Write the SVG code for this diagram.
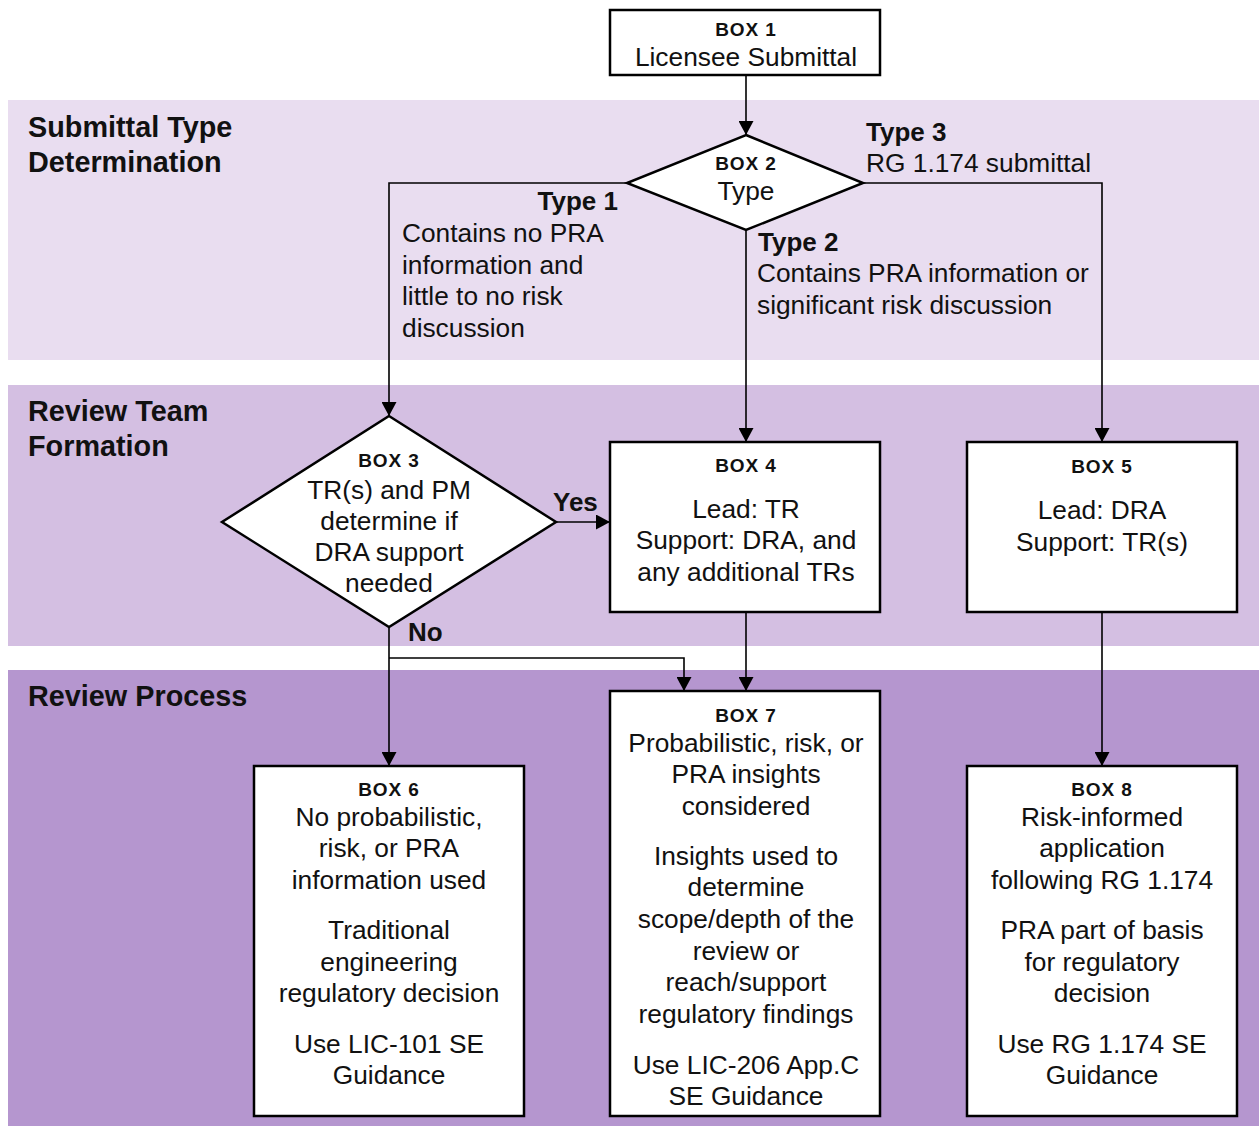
<svg xmlns="http://www.w3.org/2000/svg" width="1259" height="1126" viewBox="0 0 1259 1126">
  <defs>
    <marker id="arrow" viewBox="0 0 14 15" refX="14" refY="7.5" markerWidth="14" markerHeight="15" markerUnits="userSpaceOnUse" orient="auto">
      <path d="M0,0 L14,7.5 L0,15 Z" fill="#000"/>
    </marker>
    <style>
      text { font-family: "Liberation Sans", Arial, sans-serif; fill: #111; }
      .box { fill: #fff; stroke: #000; stroke-width: 2.5; }
      .hd { font-size: 19px; font-weight: bold; text-anchor: middle; letter-spacing: 0.9px; }
      .tx { font-size: 26.3px; text-anchor: middle; }
      .lb { font-size: 26.3px; }
      .lbb { font-size: 26px; font-weight: bold; }
      .band { font-size: 28.8px; font-weight: bold; }
      .conn path { fill: none; stroke: #000; stroke-width: 1.6; }
    </style>
  </defs>

  <rect width="1259" height="1126" fill="#fff"/>

  <!-- swimlane bands -->
  <g id="bands">
    <rect x="8" y="100" width="1251" height="260" fill="#E9DDF0"/>
    <rect x="8" y="385" width="1251" height="261" fill="#D4BFE2"/>
    <rect x="8" y="670" width="1251" height="456" fill="#B596CF"/>
    <text class="band" x="28" y="137">Submittal Type</text>
    <text class="band" x="28" y="172">Determination</text>
    <text class="band" x="28" y="421">Review Team</text>
    <text class="band" x="28" y="456">Formation</text>
    <text class="band" x="28" y="706">Review Process</text>
  </g>

  <!-- connectors -->
  <g id="connectors" class="conn">
    <path d="M746,75 V135" marker-end="url(#arrow)"/>
    <path d="M627,183 H389 V416" marker-end="url(#arrow)"/>
    <path d="M746,230 V442" marker-end="url(#arrow)"/>
    <path d="M863,183 H1102 V442" marker-end="url(#arrow)"/>
    <path d="M556,522 H610" marker-end="url(#arrow)"/>
    <path d="M389,627 V766" marker-end="url(#arrow)"/>
    <path d="M389,658 H684 V691" marker-end="url(#arrow)"/>
    <path d="M746,612 V691" marker-end="url(#arrow)"/>
    <path d="M1102,612 V766" marker-end="url(#arrow)"/>
  </g>

  <!-- connector labels -->
  <g id="labels">
    <text class="lbb" x="866" y="141">Type 3</text>
    <text class="lb" x="866" y="172">RG 1.174 submittal</text>
    <text class="lbb" x="618" y="210" text-anchor="end">Type 1</text>
    <text class="lb" x="402" y="242">Contains no PRA</text>
    <text class="lb" x="402" y="274">information and</text>
    <text class="lb" x="402" y="305">little to no risk</text>
    <text class="lb" x="402" y="337">discussion</text>
    <text class="lbb" x="758" y="251">Type 2</text>
    <text class="lb" x="757" y="282">Contains PRA information or</text>
    <text class="lb" x="757" y="314">significant risk discussion</text>
    <text class="lbb" x="553" y="511">Yes</text>
    <text class="lbb" x="408" y="641">No</text>
  </g>

  <g id="box1">
    <rect class="box" x="610" y="10" width="270" height="65"/>
    <text class="hd" x="746" y="36">BOX 1</text>
    <text class="tx" x="746" y="66">Licensee Submittal</text>
  </g>

  <g id="box2">
    <polygon class="box" points="746,135 863,183 746,230 627,183"/>
    <text class="hd" x="746" y="170">BOX 2</text>
    <text class="tx" x="746" y="200">Type</text>
  </g>

  <g id="box3">
    <polygon class="box" points="389,416 556,522 389,627 222,522"/>
    <text class="hd" x="389" y="467">BOX 3</text>
    <text class="tx" x="389" y="499">TR(s) and PM</text>
    <text class="tx" x="389" y="530">determine if</text>
    <text class="tx" x="389" y="561">DRA support</text>
    <text class="tx" x="389" y="592">needed</text>
  </g>

  <g id="box4">
    <rect class="box" x="610" y="442" width="270" height="170"/>
    <text class="hd" x="746" y="472">BOX 4</text>
    <text class="tx" x="746" y="518">Lead: TR</text>
    <text class="tx" x="746" y="549">Support: DRA, and</text>
    <text class="tx" x="746" y="581">any additional TRs</text>
  </g>

  <g id="box5">
    <rect class="box" x="967" y="442" width="270" height="170"/>
    <text class="hd" x="1102" y="473">BOX 5</text>
    <text class="tx" x="1102" y="519">Lead: DRA</text>
    <text class="tx" x="1102" y="551">Support: TR(s)</text>
  </g>

  <g id="box6">
    <rect class="box" x="254" y="766" width="270" height="350"/>
    <text class="hd" x="389" y="796">BOX 6</text>
    <text class="tx" x="389" y="826">No probabilistic,</text>
    <text class="tx" x="389" y="857">risk, or PRA</text>
    <text class="tx" x="389" y="889">information used</text>
    <text class="tx" x="389" y="939">Traditional</text>
    <text class="tx" x="389" y="971">engineering</text>
    <text class="tx" x="389" y="1002">regulatory decision</text>
    <text class="tx" x="389" y="1053">Use LIC-101 SE</text>
    <text class="tx" x="389" y="1084">Guidance</text>
  </g>

  <g id="box7">
    <rect class="box" x="610" y="691" width="270" height="425"/>
    <text class="hd" x="746" y="722">BOX 7</text>
    <text class="tx" x="746" y="752">Probabilistic, risk, or</text>
    <text class="tx" x="746" y="783">PRA insights</text>
    <text class="tx" x="746" y="815">considered</text>
    <text class="tx" x="746" y="865">Insights used to</text>
    <text class="tx" x="746" y="896">determine</text>
    <text class="tx" x="746" y="928">scope/depth of the</text>
    <text class="tx" x="746" y="960">review or</text>
    <text class="tx" x="746" y="991">reach/support</text>
    <text class="tx" x="746" y="1023">regulatory findings</text>
    <text class="tx" x="746" y="1074">Use LIC-206 App.C</text>
    <text class="tx" x="746" y="1105">SE Guidance</text>
  </g>

  <g id="box8">
    <rect class="box" x="967" y="766" width="270" height="350"/>
    <text class="hd" x="1102" y="796">BOX 8</text>
    <text class="tx" x="1102" y="826">Risk-informed</text>
    <text class="tx" x="1102" y="857">application</text>
    <text class="tx" x="1102" y="889">following RG 1.174</text>
    <text class="tx" x="1102" y="939">PRA part of basis</text>
    <text class="tx" x="1102" y="971">for regulatory</text>
    <text class="tx" x="1102" y="1002">decision</text>
    <text class="tx" x="1102" y="1053">Use RG 1.174 SE</text>
    <text class="tx" x="1102" y="1084">Guidance</text>
  </g>
</svg>
